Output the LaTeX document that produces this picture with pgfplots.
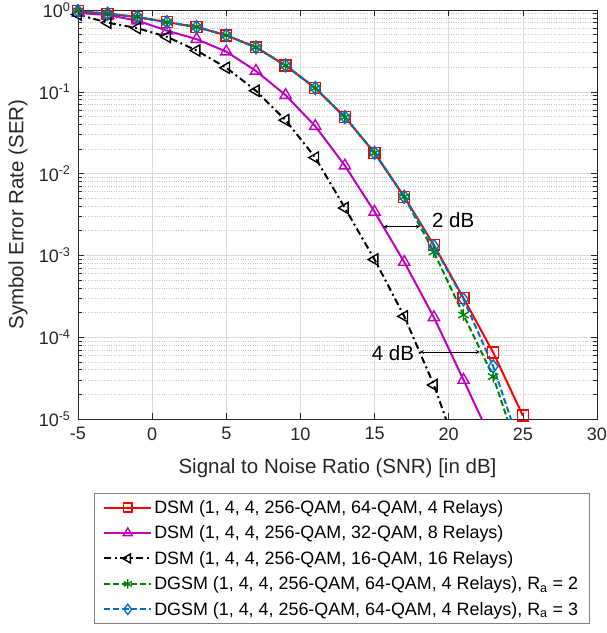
\documentclass[border=0pt]{standalone}
\usepackage{fontspec}
\setmainfont{Liberation Sans}
\usepackage{pgfplots}
\pgfplotsset{compat=1.18}
\definecolor{axgray}{RGB}{38,38,38}
\definecolor{dsmRed}{RGB}{255,0,0}
\definecolor{dsmMag}{RGB}{191,0,191}
\definecolor{dgsmGreen}{RGB}{0,128,0}
\definecolor{dgsmBlue}{RGB}{0,114,189}

\begin{document}
\begin{tikzpicture}
  \begin{axis}[
      at={(0,0)}, anchor=south west,
      scale only axis, width=519bp, height=409bp,
      xmin=-5, xmax=30, ymin=1e-5, ymax=1,
      ymode=log,
      xtick={-5,0,5,10,15,20,25,30},
      xticklabels={-5,0,5,10,15,20,25,30},
      ytick={1e-5,1e-4,1e-3,1e-2,1e-1,1},
      yticklabels={10\textsuperscript{-5},10\textsuperscript{-4},10\textsuperscript{-3},10\textsuperscript{-2},10\textsuperscript{-1},10\textsuperscript{0}},
      tick align=inside,
      major tick length=6bp, minor tick length=4bp,
      tick style={axgray, line width=0.6pt},
      axis line style={axgray, line width=0.8pt},
      ticklabel style={font=\fontsize{18bp}{20bp}\selectfont, text=axgray},
      xticklabel style={yshift=-5bp},
      yticklabel style={xshift=-4bp},
      xmajorgrids, ymajorgrids, yminorgrids,
      major grid style={gray!30, line width=0.6pt},
      minor grid style={gray!45, dotted, line width=0.6pt},
      xlabel={Signal to Noise Ratio (SNR) [in dB]},
      ylabel={Symbol Error Rate (SER)},
      every axis x label/.style={at={(axis description cs:0.5,-0.12)}, anchor=center,
        font=\fontsize{20.5bp}{24bp}\selectfont, text=axgray},
      every axis y label/.style={at={(axis description cs:-0.1156,0.5)}, rotate=90, anchor=center,
        font=\fontsize{20.5bp}{24bp}\selectfont, text=axgray},
      legend style={at={(axis description cs:0.0308,-0.181)}, anchor=north west,
        font=\fontsize{17.9bp}{21bp}\selectfont, draw=gray, line width=0.6pt,
        cells={anchor=west}, row sep=7bp, inner xsep=9bp, inner ysep=5bp},
      legend image code/.code={\draw[mark repeat=2, mark phase=2, every mark/.append style={scale=0.8}]
        plot coordinates {(0bp,0bp) (23.5bp,0bp) (47bp,0bp)};},
      every axis plot/.append style={line width=2pt, mark size=5.5pt, mark options={solid, line width=1.4pt}},
    ]
    \addplot[dsmRed, solid, line width=2pt, mark=square] coordinates {
      (-5,0.97) (-3,0.90) (-1,0.82) (1,0.71) (3,0.62) (5,0.49) (7,0.35) (9,0.21)
      (11,0.111) (13,0.049) (15,0.0179) (17,0.0052) (19,0.00134) (21,3.0e-4)
      (23,6.5e-5) (25,1.1e-5)};
    \addlegendentry{DSM (1, 4, 4, 256-QAM, 64-QAM, 4 Relays)}
    \addplot[dsmMag, solid, line width=2pt, mark=triangle, mark size=6.5pt] coordinates {
      (-5,0.92) (-3,0.87) (-1,0.74) (1,0.56) (3,0.44) (5,0.31) (7,0.18) (9,0.091)
      (11,0.038) (13,0.0125) (15,0.0034) (17,8.3e-4) (19,1.75e-4) (21,3.0e-5)
      (23,5.0e-6)};
    \addlegendentry{DSM (1, 4, 4, 256-QAM, 32-QAM, 8 Relays)}
    \addplot[black, line width=2pt, dash pattern=on 7bp off 3.5bp on 2bp off 3.5bp, mark=triangle, mark size=6.5pt,
      mark options={solid, line width=1.4pt, rotate=90}] coordinates {
      (-5,0.88) (-3,0.70) (-1,0.60) (1,0.47) (3,0.32) (5,0.197) (7,0.103) (9,0.045)
      (11,0.0157) (13,0.0038) (15,8.9e-4) (17,1.8e-4) (19,2.6e-5) (21,2.5e-6)};
    \addlegendentry{DSM (1, 4, 4, 256-QAM, 16-QAM, 16 Relays)}
    \addplot[dgsmGreen, line width=2pt, dash pattern=on 6bp off 3bp, mark=asterisk, mark size=6pt] coordinates {
      (-5,0.97) (-3,0.90) (-1,0.82) (1,0.71) (3,0.62) (5,0.49) (7,0.35) (9,0.21)
      (11,0.111) (13,0.049) (15,0.0179) (17,0.0052) (19,0.0011) (21,1.87e-4)
      (23,3.3e-5) (25,2.7e-6)};
    \addlegendentry{DGSM (1, 4, 4, 256-QAM, 64-QAM, 4 Relays), R\textsubscript{a} = 2}
    \addplot[dgsmBlue, line width=2pt, dash pattern=on 6bp off 3bp, mark=diamond, mark size=6.5pt] coordinates {
      (-5,0.97) (-3,0.90) (-1,0.82) (1,0.71) (3,0.62) (5,0.49) (7,0.35) (9,0.21)
      (11,0.111) (13,0.049) (15,0.0179) (17,0.0052) (19,0.0013) (21,2.9e-4)
      (23,4.4e-5) (25,3.7e-6)};
    \addlegendentry{DGSM (1, 4, 4, 256-QAM, 64-QAM, 4 Relays), R\textsubscript{a} = 3}

    \draw[<->, >=stealth, line width=0.8pt] (axis cs:15.6,2.24e-3) -- (axis cs:18.06,2.24e-3);
    \node[font=\fontsize{20.5bp}{24bp}\selectfont] at (axis cs:20.3,2.7e-3) {2 dB};
    \draw[<->, >=stealth, line width=0.8pt] (axis cs:18.06,6.6e-5) -- (axis cs:22.1,6.6e-5);
    \node[font=\fontsize{20.5bp}{24bp}\selectfont, anchor=east] at (axis cs:17.9,6.3e-5) {4 dB};
  \end{axis}
  \pgfresetboundingbox
  \path[use as bounding box] (-78bp,-214bp) rectangle (529bp,419bp);
\end{tikzpicture}
\end{document}
